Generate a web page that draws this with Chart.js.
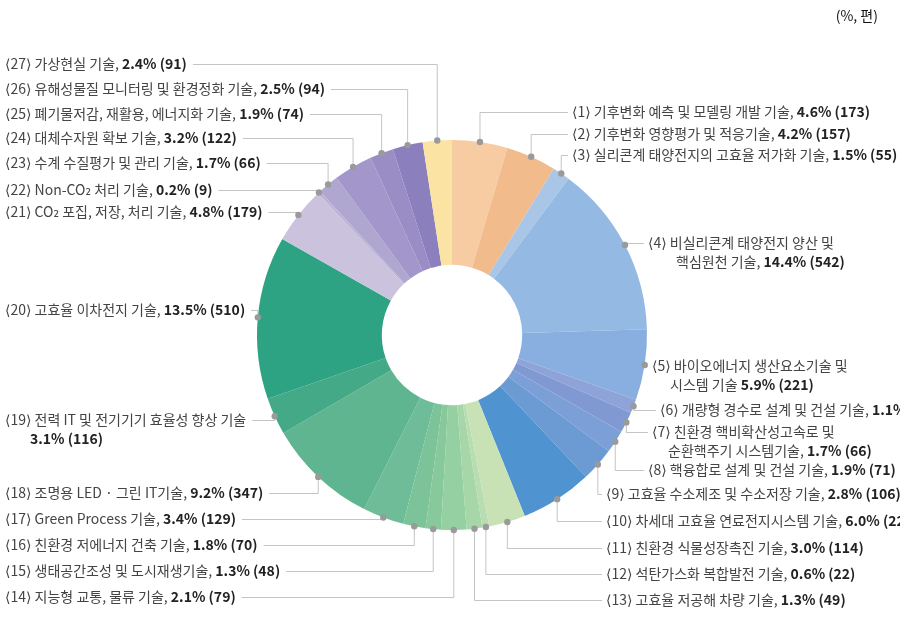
<!DOCTYPE html>
<html>
<head>
<meta charset="utf-8">
<script src="https://cdn.jsdelivr.net/npm/chart.js"></script>
<style>
    body { margin: 0; background: #fff; }
    #wrap { position: relative; width: 900px; height: 635px; }
    #unit { position: absolute; right: 22px; top: 5px; font: 14px "Noto Sans CJK KR", sans-serif; color: #111; }
</style>
</head>
<body>
<div id="wrap">
    <canvas id="techChart"></canvas>
    <div id="unit">(%, 편)</div>
</div>
<script>
// 기술분야 (label text, \n = line break)
const names = [
    '⟨1⟩ 기후변화 예측 및 모델링 개발 기술, ',
    '⟨2⟩ 기후변화 영향평가 및 적응기술, ',
    '⟨3⟩ 실리콘계 태양전지의 고효율 저가화 기술, ',
    '⟨4⟩ 비실리콘계 태양전지 양산 및\n핵심원천 기술, ',
    '⟨5⟩ 바이오에너지 생산요소기술 및\n시스템 기술 ',
    '⟨6⟩ 개량형 경수로 설계 및 건설 기술, ',
    '⟨7⟩ 친환경 핵비확산성고속로 및\n순환핵주기 시스템기술, ',
    '⟨8⟩ 핵융합로 설계 및 건설 기술, ',
    '⟨9⟩ 고효율 수소제조 및 수소저장 기술, ',
    '⟨10⟩ 차세대 고효율 연료전지시스템 기술, ',
    '⟨11⟩ 친환경 식물성장촉진 기술, ',
    '⟨12⟩ 석탄가스화 복합발전 기술, ',
    '⟨13⟩ 고효율 저공해 차량 기술, ',
    '⟨14⟩ 지능형 교통, 물류 기술, ',
    '⟨15⟩ 생태공간조성 및 도시재생기술, ',
    '⟨16⟩ 친환경 저에너지 건축 기술, ',
    '⟨17⟩ Green Process 기술, ',
    '⟨18⟩ 조명용 LED · 그린 IT기술, ',
    '⟨19⟩ 전력 IT 및 전기기기 효율성 향상 기술\n',
    '⟨20⟩ 고효율 이차전지 기술, ',
    '⟨21⟩ CO₂ 포집, 저장, 처리 기술, ',
    '⟨22⟩ Non-CO₂ 처리 기술, ',
    '⟨23⟩ 수계 수질평가 및 관리 기술, ',
    '⟨24⟩ 대체수자원 확보 기술, ',
    '⟨25⟩ 폐기물저감, 재활용, 에너지화 기술, ',
    '⟨26⟩ 유해성물질 모니터링 및 환경정화 기술, ',
    '⟨27⟩ 가상현실 기술, '
]
// 편수
const counts = [173, 157, 55, 542, 221, 43, 66, 71, 106, 225, 114, 22, 49, 79, 48, 70, 129, 347, 116, 510, 179, 9, 66, 122, 74, 94, 91]
// 비율 (%)
const pcts = ['4.6', '4.2', '1.5', '14.4', '5.9', '1.1', '1.7', '1.9', '2.8', '6.0', '3.0', '0.6', '1.3', '2.1', '1.3', '1.8', '3.4', '9.2', '3.1', '13.5', '4.8', '0.2', '1.7', '3.2', '1.9', '2.5', '2.4']

const colors = ['#f8cca2', '#f1bb8b', '#a9c6e6', '#94b9e3', '#88afdf', '#8ea3d8', '#8099d2', '#7b9fd6', '#6c9ad2', '#4f93d0',
    '#c8e2b5', '#b8ddb0', '#a7d7a9', '#94d0a2', '#88c99b', '#7cc399', '#6fbd98', '#5eb58f', '#44a987', '#2ea383',
    '#cbc3dd', '#bcb3d7', '#b0a7d1', '#a396ca', '#9a8dc5', '#8b80bd', '#fae3a3']

// label placement: text x, y of first line, x of following lines
const labelX = [572, 572, 572, 648, 652, 660, 652, 648, 606, 606, 606, 606, 606, 5, 5, 5, 5, 5, 5, 5, 5, 5, 5, 5, 5, 5, 5]
const labelY = [112, 134, 155, 243, 366, 410, 432, 470, 494, 521, 548, 574, 600, 597, 571, 545, 519, 493, 420, 310, 212, 190, 163, 138, 114, 89, 64]
const label2X = {3: 676, 4: 670, 6: 668, 18: 30}

const FONT = '"Noto Sans CJK KR", "DejaVu Sans", sans-serif'
const FS = 14

const leaderPlugin = {
    id: 'leaders',
    afterDraw(chart) {
        const ctx = chart.ctx
        const meta = chart.getDatasetMeta(0)
        ctx.save()
        ctx.textBaseline = 'middle'
        meta.data.forEach((arc, i) => {
            const mid = (arc.startAngle + arc.endAngle) / 2
            const dx = arc.x + Math.cos(mid) * arc.outerRadius
            const dy = arc.y + Math.sin(mid) * arc.outerRadius
            const lines = names[i].split('\n')
            const last = lines.length - 1
            const ly = labelY[i]
            const right = labelX[i] > 400

            // first line width -> where the leader line reaches
            ctx.font = FS + 'px ' + FONT
            let w0 = ctx.measureText(lines[0]).width
            if (last === 0) {
                ctx.font = 'bold ' + FS + 'px ' + FONT
                w0 += ctx.measureText(pcts[i] + '% (' + counts[i] + ')').width
            }
            const endX = right ? labelX[i] - 4 : labelX[i] + w0 + 6

            ctx.strokeStyle = '#c4c4c4'
            ctx.lineWidth = 1
            ctx.beginPath()
            ctx.moveTo(dx, dy)
            ctx.lineTo(dx, ly + 0.5)
            ctx.lineTo(endX, ly + 0.5)
            ctx.stroke()

            ctx.fillStyle = '#9a9a9a'
            ctx.beginPath()
            ctx.arc(dx, dy, 3.2, 0, Math.PI * 2)
            ctx.fill()

            lines.forEach((ln, k) => {
                let x = k === 0 ? labelX[i] : label2X[i]
                const y = ly + k * 19
                ctx.font = FS + 'px ' + FONT
                ctx.fillStyle = '#444'
                ctx.textAlign = 'left'
                ctx.fillText(ln, x, y)
                if (k === last) {
                    x += ctx.measureText(ln).width
                    ctx.font = 'bold ' + FS + 'px ' + FONT
                    ctx.fillStyle = '#222'
                    ctx.fillText(pcts[i] + '% (' + counts[i] + ')', x, y)
                }
            })
        })
        ctx.restore()
    }
}

const techCtx = document.getElementById('techChart').getContext('2d')
const techChart = new Chart(techCtx, {
    type: 'doughnut',
    data: {
        labels: names.map(n => n.replace('\n', ' ')),
        datasets: [{
            data: counts,
            backgroundColor: colors,
            borderWidth: 0
        }]
    },
    options: {
        responsive: true,
        maintainAspectRatio: false,
        animation: false,
        cutout: '36%',
        layout: {
            padding: { left: 257, right: 253, top: 140, bottom: 105 }
        },
        plugins: {
            legend: { display: false },
            tooltip: { enabled: false }
        }
    },
    plugins: [leaderPlugin]
})
</script>
</body>
</html>
